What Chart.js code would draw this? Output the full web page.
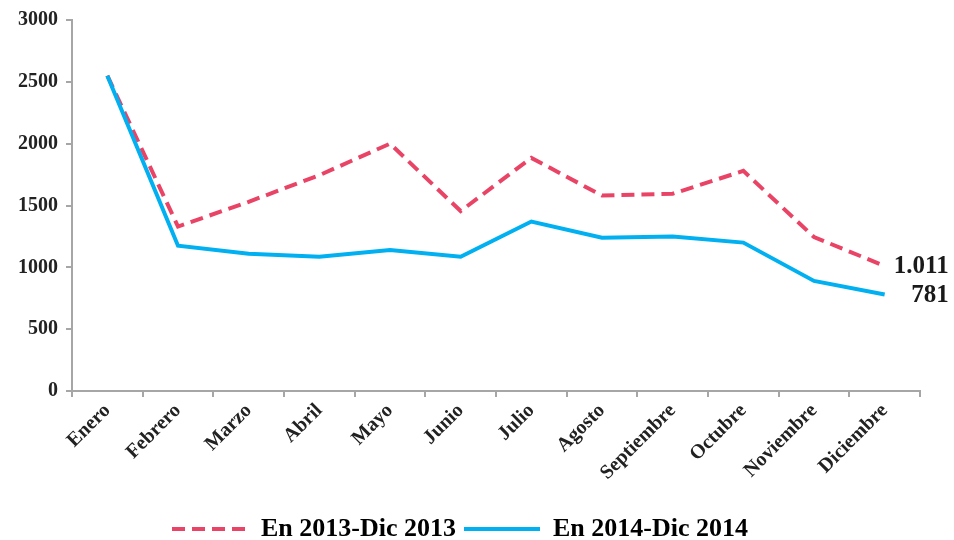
<!DOCTYPE html>
<html><head><meta charset="utf-8">
<script src="https://cdn.jsdelivr.net/npm/chart.js@4.4.1/dist/chart.umd.min.js"></script>
<style>html,body{margin:0;padding:0;background:#fff;overflow:hidden}#wrap{width:954px;height:540px;position:relative;overflow:hidden}</style>
</head><body><div id="wrap"><canvas id="c" width="954" height="552"></canvas></div>
<script>
const categories = ["Enero","Febrero","Marzo","Abril","Mayo","Junio","Julio","Agosto","Septiembre","Octubre","Noviembre","Diciembre"];
const series2013 = [2550,1330,1530,1745,2000,1455,1885,1580,1595,1780,1245,1011];
const series2014 = [2550,1175,1110,1085,1140,1085,1370,1240,1250,1200,890,781];
const seriesNames = ["En 2013-Dic 2013","En 2014-Dic 2014"];
const endLabels = ["1.011","781"];
const yTicks = [0,500,1000,1500,2000,2500,3000];

const PINK = "#E94466", CYAN = "#00B0F0";
const serif = "'Liberation Serif','Times New Roman',serif";

const endLabelPlugin = {
  id: 'endLabels',
  afterDatasetsDraw(chart) {
    const ctx = chart.ctx;
    ctx.save();
    ctx.font = "bold 25px " + serif;
    ctx.fillStyle = "#1a1a1a";
    ctx.textAlign = "right";
    ctx.textBaseline = "middle";
    [0,1].forEach(i => {
      const meta = chart.getDatasetMeta(i);
      const pt = meta.data[meta.data.length - 1];
      ctx.fillText(endLabels[i], pt.x + 64, pt.y + 1);
    });
    ctx.restore();
  }
};

new Chart(document.getElementById('c'), {
  type: 'line',
  data: {
    labels: categories,
    datasets: [
      { label: seriesNames[0], data: series2013, borderColor: PINK, backgroundColor: PINK,
        borderWidth: 4, borderDash: [13,7], pointRadius: 0, tension: 0, order: 2 },
      { label: seriesNames[1], data: series2014, borderColor: CYAN, backgroundColor: CYAN,
        borderWidth: 4, pointRadius: 0, tension: 0, order: 1 }
    ]
  },
  options: {
    responsive: false,
    animation: false,
    layout: { padding: { top: 12, right: 34, left: 0, bottom: 0 } },
    plugins: {
      tooltip: { enabled: false },
      legend: {
        position: 'bottom',
        labels: {
          usePointStyle: true,
          pointStyleWidth: 76,
          boxHeight: 4,
          padding: 8,
          color: "#000",
          font: { family: serif, size: 26, weight: 'bold' },
          generateLabels(chart) {
            return chart.data.datasets.map((ds, i) => ({
              text: ds.label, fillStyle: ds.borderColor, strokeStyle: ds.borderColor,
              lineWidth: 4, lineDash: ds.borderDash || [], pointStyle: 'line',
              hidden: false, datasetIndex: i, fontColor: "#000"
            }));
          }
        }
      }
    },
    scales: {
      x: {
        offset: true,
        grid: { display: true, drawOnChartArea: false, drawTicks: true, tickLength: 6, offset: true, color: "#a6a6a6", lineWidth: 2 },
        border: { display: true, color: "#a6a6a6", width: 2 },
        ticks: { minRotation: 45, maxRotation: 45, autoSkip: false, color: "#222", padding: 2,
                 font: { family: serif, size: 20, weight: 'bold' } },
        afterFit(axis) { axis.height = 117; }
      },
      y: {
        min: 0, max: 3000,
        afterBuildTicks(axis) { axis.ticks = yTicks.map(v => ({ value: v })); },
        grid: { display: true, drawOnChartArea: false, drawTicks: true, tickLength: 6, color: "#a6a6a6", lineWidth: 2 },
        border: { display: true, color: "#a6a6a6", width: 2 },
        ticks: { color: "#222", padding: 8, font: { family: serif, size: 20, weight: 'bold' },
                 callback: v => String(v) },
        afterFit(axis) { axis.width = 72; }
      }
    }
  },
  plugins: [endLabelPlugin]
});
</script></body></html>
